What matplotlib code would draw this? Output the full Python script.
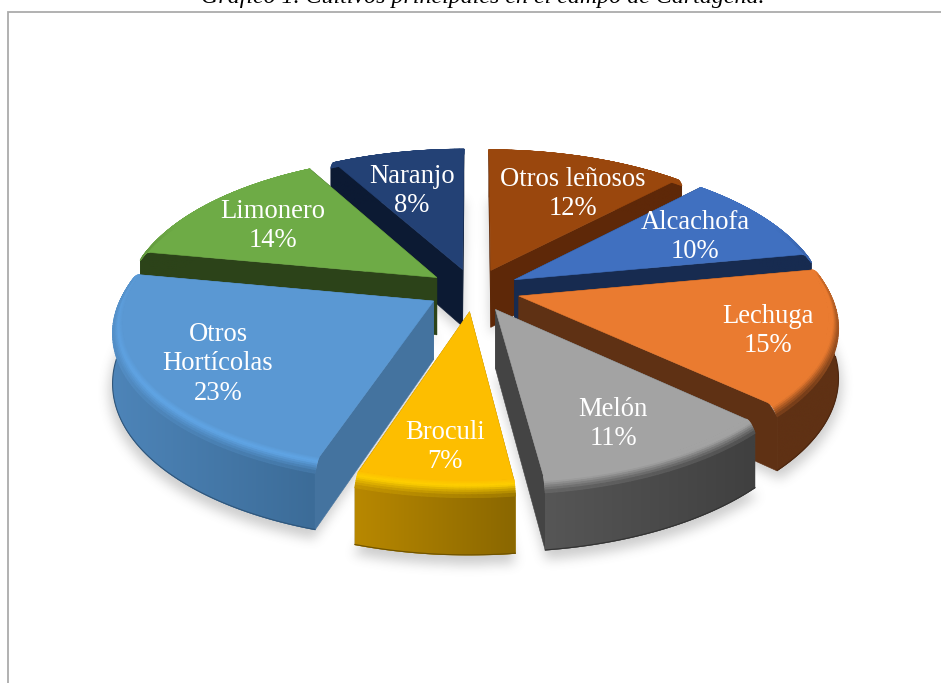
import numpy as np
import matplotlib
matplotlib.use('Agg')
import matplotlib.pyplot as plt
from matplotlib.collections import PolyCollection
from matplotlib.colors import to_rgb
from matplotlib.patches import Polygon
from matplotlib.path import Path

# data, clockwise from 12 o'clock
cultivos = ['Otros leñosos', 'Alcachofa', 'Lechuga', 'Melón', 'Broculi',
            'Otros\nHortícolas', 'Limonero', 'Naranjo']
porcentajes = [12, 10, 15, 11, 7, 23, 14, 8]

titulo = 'Gráfico 1. Cultivos principales en el campo de Cartagena.'

# styles
topColors = ['#9A470D', '#4070C0', '#EA7B30', '#A3A3A3', '#FDBE00', '#5A98D3', '#6EAB46', '#234175']
rimColors = ['#9A470D', '#4678CC', '#EA7B30', '#A3A3A3', '#FFD000', '#60A5E6', '#6EAB46', '#234175']
cutColors = ['#5E2808', '#172B50', '#5F3114', '#444444', '#8F6B00', '#44739F', '#2C4319', '#0C1A33']
wallLeft = ['#5E2808', '#172B50', '#5F3114', '#565656', '#B88800', '#4D84B8', '#2C4319', '#0C1A33']
wallRight = ['#5E2808', '#172B50', '#5F3114', '#404040', '#8A6700', '#3C6C98', '#2C4319', '#0C1A33']
labelPos = [(573, 194), (695, 237), (768, 331), (613, 424), (445, 447), (218, 364), (273, 226), (412, 191)]
drawOrder = [7, 0, 1, 6, 2, 5, 3, 4]

# projection of the tilted pie
CX, CY = 474, 290
A, B, K = 314, 145, 0.135
EXPLODE = 0.148
DEPTH = 58
BEVEL_Z = 9
BEVEL_R = 0.03


def project(x, y, z=0.0):
    w = 1 + K * y
    return CX + A * x / w, CY - B * y / w + z / w


def slicePoint(r, theta, mid, z=0.0):
    x = EXPLODE * np.sin(mid) + r * np.sin(theta)
    y = EXPLODE * np.cos(mid) + r * np.cos(theta)
    return project(x, y, z)


def mix(c1, c2, t):
    return tuple((1 - t) * a + t * b for a, b in zip(c1, c2))


def footprint(start, end, mid, z, r=1.0):
    thetas = np.linspace(start, end, 60)
    pts = [slicePoint(0, mid, mid, z)]
    pts += [slicePoint(r, t, mid, z) for t in thetas]
    return pts


def boxBlur(img, size):
    kernel = np.ones(size) / size
    for _ in range(3):
        img = np.apply_along_axis(lambda v: np.convolve(v, kernel, mode='same'), 0, img)
        img = np.apply_along_axis(lambda v: np.convolve(v, kernel, mode='same'), 1, img)
    return img


fig = plt.figure(figsize=(9.41, 6.83), dpi=100)
ax = fig.add_axes([0, 0, 1, 1])
ax.axis('off')

serif = ['Liberation Serif', 'DejaVu Serif']

fracs = np.array(porcentajes) / sum(porcentajes)
edges = np.concatenate([[0], np.cumsum(fracs)]) * 2 * np.pi
mids = (edges[:-1] + edges[1:]) / 2

# soft shadow under everything
gx, gy = np.meshgrid(np.arange(941) + 0.5, np.arange(683) + 0.5)
grid = np.column_stack([gx.ravel(), gy.ravel()])
mask = np.zeros(grid.shape[0], dtype=bool)
for i in range(len(cultivos)):
    mask |= Path(footprint(edges[i], edges[i + 1], mids[i], DEPTH + 6, 1.01)).contains_points(grid)
shadow = boxBlur(mask.reshape(gx.shape).astype(float), 11)
rgba = np.zeros(gx.shape + (4,))
rgba[..., :3] = 0.35
rgba[..., 3] = shadow * 0.3
ax.imshow(rgba, extent=[0, 941, 683, 0], aspect='auto', zorder=0.5, interpolation='nearest')

# frame
ax.plot([8, 8, 941], [683, 12, 12], color='#ABABAB', lw=1.3, solid_joinstyle='miter', zorder=0.6)
ax.text(483, 2.5, titulo, ha='center', va='baseline', fontsize=17.3, style='italic',
        color='black', family=serif, zorder=0.7)

zo = 1
for i in drawOrder:
    start, end, mid = edges[i], edges[i + 1], mids[i]
    top = to_rgb(topColors[i])
    rim = to_rgb(rimColors[i])
    cut = to_rgb(cutColors[i])
    left = to_rgb(wallLeft[i])
    right = to_rgb(wallRight[i])

    # cut faces
    for edge in (start, end):
        face = [slicePoint(0, mid, mid, 0), slicePoint(1 - BEVEL_R, edge, mid, 0),
                slicePoint(1, edge, mid, BEVEL_Z), slicePoint(1, edge, mid, DEPTH),
                slicePoint(0, mid, mid, DEPTH)]
        ax.add_patch(Polygon(face, closed=True, fc=cut, ec=cut, lw=0.4, zorder=zo))
        zo += 1

    thetas = np.linspace(start, end, int(np.degrees(end - start)) + 2)
    xs = [slicePoint(1, t, mid)[0] for t in thetas]
    xMin, xMax = min(xs), max(xs)

    # outer wall with a horizontal gradient
    wallPts = [slicePoint(1, t, mid, BEVEL_Z) for t in thetas]
    wallPts += [slicePoint(1, t, mid, DEPTH) for t in thetas[::-1]]
    wallPatch = Polygon(wallPts, closed=True, fc=mix(left, right, 0.5), ec='none', zorder=zo)
    ax.add_patch(wallPatch)
    zo += 1
    grad = np.linspace(left, right, 64).reshape(1, 64, 3)
    wallTop = min(p[1] for p in wallPts)
    wallBottom = max(p[1] for p in wallPts)
    im = ax.imshow(grad, extent=[xMin, xMax, wallBottom, wallTop], aspect='auto', zorder=zo,
                   interpolation='bilinear')
    im.set_clip_path(wallPatch)
    zo += 1

    # thin darker bottom edge, near side only
    front = thetas[np.cos(thetas) < 0]
    if len(front) > 1:
        bottomPts = np.array([slicePoint(1, t, mid, DEPTH - 0.5) for t in front])
        ax.plot(bottomPts[:, 0], bottomPts[:, 1], color=mix(right, (0, 0, 0), 0.2), lw=0.8, zorder=zo)
    zo += 1

    # flat top
    ax.add_patch(Polygon(footprint(start, end, mid, 0, 1 - BEVEL_R), closed=True, fc=top, ec=top,
                         lw=0.4, zorder=zo))
    zo += 1

    # rounded rim between top and wall
    steps = 10
    polys, cols = [], []
    for k in range(steps):
        f0, f1 = k / steps, (k + 1) / steps
        r0, r1 = 1 - BEVEL_R * (1 - f0), 1 - BEVEL_R * (1 - f1)
        z0, z1 = BEVEL_Z * f0 ** 2, BEVEL_Z * f1 ** 2
        for a, b, xa in zip(thetas[:-1], thetas[1:], xs[:-1]):
            polys.append([slicePoint(r0, a, mid, z0), slicePoint(r0, b, mid, z0),
                          slicePoint(r1, b, mid, z1), slicePoint(r1, a, mid, z1)])
            wall = mix(left, right, (xa - xMin) / max(xMax - xMin, 1))
            if f0 < 0.45:
                c = mix(top, rim, f0 / 0.45)
            else:
                c = mix(rim, wall, (f0 - 0.45) / 0.55)
            facing = np.clip(0.45 - np.cos(a), 0, 1)
            cols.append(mix(top, c, facing))
    ax.add_collection(PolyCollection(polys, facecolors=cols, edgecolors='face', linewidths=0.8, zorder=zo))
    zo += 1

# labels
for i, name in enumerate(cultivos):
    ax.text(labelPos[i][0], labelPos[i][1], f'{name}\n{porcentajes[i]}%', ha='center', va='center',
            color='white', fontsize=19.2, linespacing=1.26, zorder=zo + 1, family=serif)

ax.set_xlim(0, 941)
ax.set_ylim(683, 0)

fig.savefig('out.png', dpi=100)
